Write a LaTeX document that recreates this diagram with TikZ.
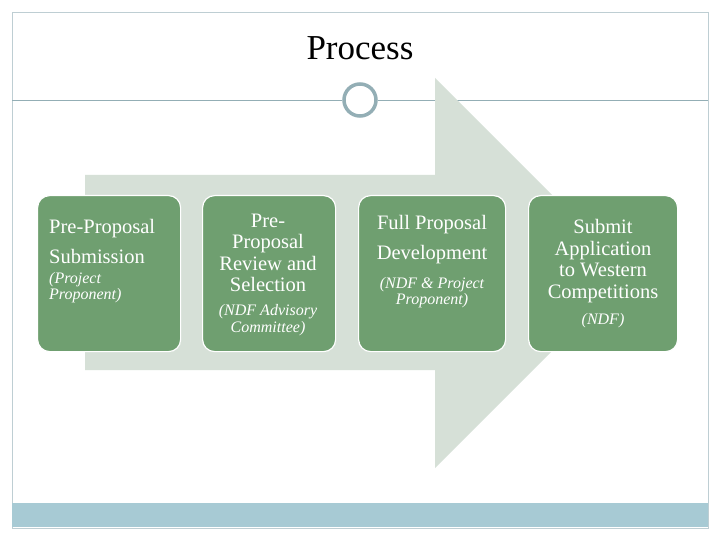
\documentclass[tikz,border=0pt]{standalone}
\usepackage{fontspec}
\setmainfont{Liberation Serif}
\begin{document}
\begin{tikzpicture}[x=1pt,y=-1pt,
  box/.style={draw=white,line width=1.2pt,fill=boxgreen,rounded corners=12pt,text=white,align=center,anchor=north west,inner sep=0pt},
  big/.style={font=\fontsize{20.5}{21.5}\selectfont},
  small/.style={font=\fontsize{16}{16.5}\selectfont\itshape}]
\definecolor{boxgreen}{HTML}{6F9F70}
\definecolor{arrowc}{HTML}{D6E0D7}
\definecolor{barc}{HTML}{A7CAD4}
\definecolor{ringc}{HTML}{93AEB5}
\useasboundingbox (0,0) rectangle (720,540);
\fill[white] (0,0) rectangle (720,540);
\draw[ringc!60,line width=0.8pt] (12,12) rectangle (708,528);
\fill[barc] (12,503) rectangle (708,527);
\node[font=\fontsize{35}{40}\selectfont] (title) at (360,48) {Process};
\coordinate (l1) at (12,100); \coordinate (l2) at (708,100);
\node[circle,draw=ringc,line width=3.5pt,fill=white,minimum size=32pt,inner sep=0pt] (ring) at (360,100) {};
\draw[ringc,line width=0.8pt] (l1) -- (ring.west);
\draw[ringc,line width=0.8pt] (ring.east) -- (l2);
\fill[arrowc] (85,175) -- (435,175) -- (435,78) -- (630,273) -- (435,468) -- (435,370) -- (85,370) -- cycle;
\node[box,minimum width=143pt,minimum height=156pt] (b1) at (37,195) {};
\node[box,minimum width=133pt,minimum height=156pt] (b2) at (202,195) {};
\node[box,minimum width=147pt,minimum height=156pt] (b3) at (358,195) {};
\node[box,minimum width=149pt,minimum height=156pt] (b4) at (528,195) {};
\node[text=white,align=left,anchor=north west,inner sep=0pt,font=\fontsize{20.5}{30}\selectfont] (t1) at (49,219) {Pre-Proposal\\Submission};
\node[text=white,align=left,anchor=north west,inner sep=0pt,small] (s1) at (49,272) {(Project\\Proponent)};
\node[text=white,align=center,inner sep=0pt,big] (t2) at (268,253) {Pre-\\Proposal\\Review and\\Selection};
\node[text=white,align=center,inner sep=0pt,small] (s2) at (268,320) {(NDF Advisory\\Committee)};
\node[text=white,align=center,anchor=north,inner sep=0pt,font=\fontsize{20.5}{30}\selectfont] (t3) at (432,215) {Full Proposal\\Development};
\node[text=white,align=center,anchor=north,inner sep=0pt,small] (s3) at (432,277) {(NDF \& Project\\Proponent)};
\node[text=white,align=center,inner sep=0pt,big] (t4) at (603,261) {Submit\\Application\\to Western\\Competitions};
\node[text=white,align=center,inner sep=0pt,small] (s4) at (603,321) {(NDF)};
\end{tikzpicture}
\end{document}
